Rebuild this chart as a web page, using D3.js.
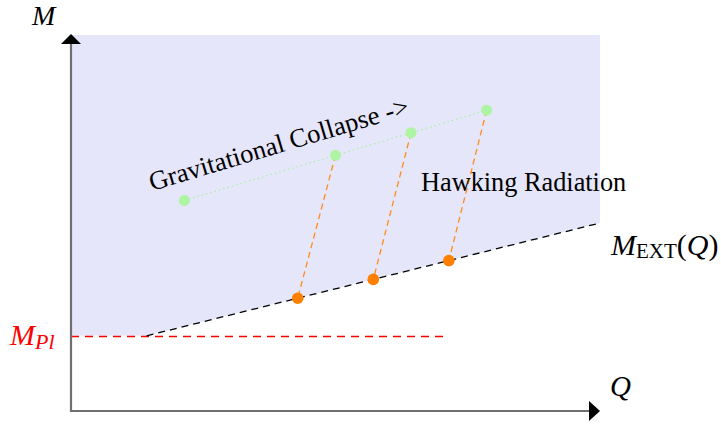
<!DOCTYPE html>
<meta charset="utf-8">
<style>
body { margin: 0; background: #fff; }
text { font-family: "Liberation Serif", "Times New Roman", serif; }
</style>
<svg width="721" height="426"></svg>
<script src="https://cdn.jsdelivr.net/npm/d3@7"></script>
<script>

// extremal curve M_EXT(Q), straight segment
var extQ = [1, 7],
    extM = [1, 2.5];

// collapse points (green) and evaporation end points (orange)
var collapseQ = [1.5, 3.5, 4.5, 5.5],
    collapseM = [2.8, 3.4, 3.7, 4.0];
var evapQ = [3, 4, 5],
    evapM = [1.5, 1.75, 2.0];

var mPl = 1, mPlEnd = 5;
var qMax = 7, mMax = 5;

var svg = d3.select("svg");

var x = d3.scaleLinear().domain([0, qMax]).range([71, 600]);
var y = d3.scaleLinear().domain([0, mMax]).range([411, 35]);

// allowed region
var region = [[0, mMax], [qMax, mMax], [extQ[1], extM[1]], [extQ[0], extM[0]], [0, mPl]];
svg.append("path")
    .attr("d", d3.line().x(function(d) { return x(d[0]); }).y(function(d) { return y(d[1]); })(region) + "Z")
    .attr("fill", "#e6e6fa");

// Planck mass line
svg.append("line")
    .attr("x1", x(0)).attr("x2", x(mPlEnd))
    .attr("y1", Math.round(y(mPl)) + 0.5).attr("y2", Math.round(y(mPl)) + 0.5)
    .attr("stroke", "#ff0000")
    .attr("stroke-width", 1.3)
    .attr("stroke-dasharray", "8,6");

// extremal line
svg.append("line")
    .attr("x1", x(extQ[0])).attr("y1", y(extM[0]))
    .attr("x2", x(extQ[1])).attr("y2", y(extM[1]))
    .attr("stroke", "#000")
    .attr("stroke-width", 1.3)
    .attr("stroke-dasharray", "7,5");

// collapse path
svg.append("line")
    .attr("x1", x(collapseQ[0])).attr("y1", y(collapseM[0]))
    .attr("x2", x(collapseQ[3])).attr("y2", y(collapseM[3]))
    .attr("stroke", "#a8f0a0")
    .attr("stroke-width", 1.2)
    .attr("stroke-dasharray", "1.5,3");

// hawking radiation lines
svg.append("g")
  .selectAll("line")
  .data(evapQ)
  .enter().append("line")
    .attr("x1", function(d, i) { return x(collapseQ[i + 1]); })
    .attr("y1", function(d, i) { return y(collapseM[i + 1]); })
    .attr("x2", function(d, i) { return x(evapQ[i]); })
    .attr("y2", function(d, i) { return y(evapM[i]); })
    .attr("stroke", "#ff8c1a")
    .attr("stroke-width", 1.3)
    .attr("stroke-dasharray", "6,4");

svg.append("g")
  .selectAll("circle")
  .data(collapseQ)
  .enter().append("circle")
    .attr("cx", function(d) { return x(d); })
    .attr("cy", function(d, i) { return y(collapseM[i]); })
    .attr("r", 5.5)
    .attr("fill", "#adf5a3");

svg.append("g")
  .selectAll("circle")
  .data(evapQ)
  .enter().append("circle")
    .attr("cx", function(d) { return x(d); })
    .attr("cy", function(d, i) { return y(evapM[i]); })
    .attr("r", 5.8)
    .attr("fill", "#ff8000");

// axes
svg.append("line")
    .attr("x1", x(0)).attr("y1", y(0))
    .attr("x2", x(0)).attr("y2", y(mMax) + 8)
    .attr("stroke", "#707070").attr("stroke-width", 2.2);
svg.append("line")
    .attr("x1", x(0) - 1).attr("y1", y(0))
    .attr("x2", x(qMax) - 8).attr("y2", y(0))
    .attr("stroke", "#707070").attr("stroke-width", 2.2);
svg.append("path")
    .attr("d", "M" + x(0) + "," + (y(mMax) - 1) + "l-10,10h20z")
    .attr("fill", "#000");
svg.append("path")
    .attr("d", "M" + x(qMax) + "," + y(0) + "l-11,-10v20z")
    .attr("fill", "#000");

// labels
svg.append("text")
    .attr("x", 32).attr("y", 25)
    .attr("font-size", 28).attr("font-style", "italic")
    .text("M");
svg.append("text")
    .attr("x", 610).attr("y", 396)
    .attr("font-size", 29).attr("font-style", "italic")
    .text("Q");

var pl = svg.append("text")
    .attr("x", 10).attr("y", 345)
    .attr("fill", "#ff0000")
    .attr("font-size", 30);
pl.append("tspan").attr("font-style", "italic").text("M");
pl.append("tspan").attr("font-style", "italic").attr("font-size", 22).attr("dy", 4).text("Pl");

var ext = svg.append("text")
    .attr("x", 611).attr("y", 255)
    .attr("font-size", 30);
ext.append("tspan").attr("font-style", "italic").text("M");
ext.append("tspan").attr("font-size", 21).attr("dy", 3).text("EXT");
ext.append("tspan").attr("dy", -3).text("(");
ext.append("tspan").attr("font-style", "italic").text("Q");
ext.append("tspan").text(")");

var ang = Math.atan2(y(collapseM[0]) - y(collapseM[3]), x(collapseQ[3]) - x(collapseQ[0])) * 180 / Math.PI;
svg.append("text")
    .attr("transform", "translate(152,191) rotate(" + (-ang) + ")")
    .attr("font-size", 26.5)
    .text("Gravitational Collapse ->");

svg.append("text")
    .attr("x", 421).attr("y", 191)
    .attr("font-size", 26.3)
    .text("Hawking Radiation");

</script>
